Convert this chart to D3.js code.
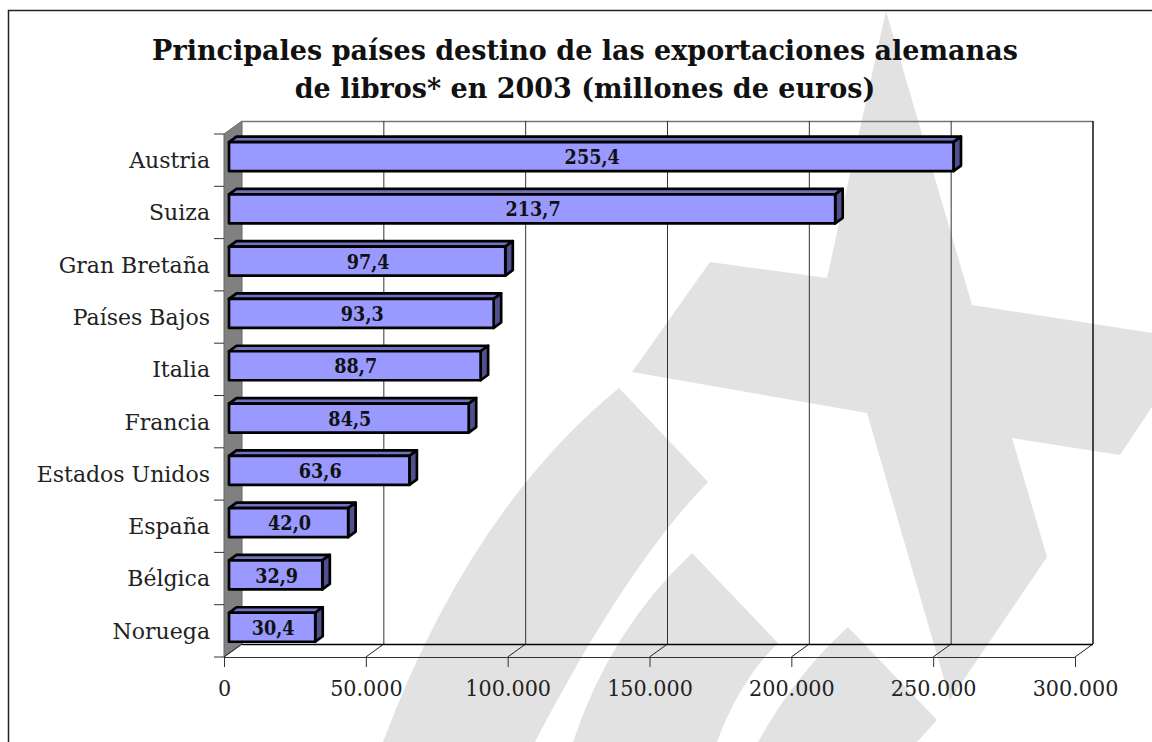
<!DOCTYPE html>
<html>
<head>
<meta charset="utf-8">
<script src="https://cdn.jsdelivr.net/npm/d3@7"></script>
<style>
    html, body { margin: 0; padding: 0; background: #fff; }
    svg { display: block; font-family: "DejaVu Serif", serif; }
</style>
</head>
<body>
<main></main>
<script>
const titleLines = [
    "Principales países destino de las exportaciones alemanas",
    "de libros* en 2003 (millones de euros)"
];
const countries = ["Austria", "Suiza", "Gran Bretaña", "Países Bajos", "Italia", "Francia", "Estados Unidos", "España", "Bélgica", "Noruega"];
const values = [255.4, 213.7, 97.4, 93.3, 88.7, 84.5, 63.6, 42.0, 32.9, 30.4];
const xTicks = [0, 50, 100, 150, 200, 250, 300];
const xTickLabels = ["0", "50.000", "100.000", "150.000", "200.000", "250.000", "300.000"];

// grey logo behind the chart
const watermark = [
    "M886,11 L972,305 L1152,333 L1152,407 L1120,455 L1012,438 L1047,557 L950,700 L867,413 L632,372 L710,262 L827,278 Z",
    "M619,388 L708,482 Q627,565 535,742 L383,742 Q470,510 619,388 Z",
    "M692,553 L778,643 Q740,680 717,742 L573,742 Q610,630 692,553 Z",
    "M848,627 L937,720 L917,742 L758,742 Q795,675 848,627 Z"
];

const WIDTH = 1152;
const HEIGHT = 742;
const DEPTH_X = 18, DEPTH_Y = 13;

// DejaVu digits run wide compared with the original typeface, so narrow them a little
const squeeze = (selection, factor) => {
    selection.each(function () {
        d3.select(this)
            .attr("textLength", this.getComputedTextLength() * factor)
            .attr("lengthAdjust", "spacingAndGlyphs");
    });
};

const svg = d3.select("main").append("svg")
    .attr("width", WIDTH)
    .attr("height", HEIGHT);

svg.append("g").selectAll("path")
    .data(watermark)
    .join("path")
    .attr("d", d => d)
    .attr("fill", "#e2e2e2");

// outer frame, open at right and bottom
svg.append("path")
    .attr("d", `M8.5,${HEIGHT} V10.5 H${WIDTH}`)
    .attr("fill", "none")
    .attr("stroke", "#222")
    .attr("stroke-width", 1.5);

svg.append("g").selectAll("text")
    .data(titleLines)
    .join("text")
    .attr("x", 585)
    .attr("y", (d, i) => 60 + i * 38)
    .attr("text-anchor", "middle")
    .attr("font-weight", "bold")
    .attr("font-size", 27)
    .attr("fill", "#111")
    .text(d => d);

// scales sit on the front edge of the floor
let xScale = d3.scaleLinear()
    .domain([0, 300])
    .range([224, 1075]);

let yScale = d3.scaleBand()
    .domain(countries)
    .range([134, 657])
    .paddingInner(0.445)
    .paddingOuter(0.2225);

let yEdge = d3.scaleLinear()
    .domain([0, countries.length])
    .range([134, 657]);

const x0 = xScale(0), x1 = xScale(300);
const yTop = yEdge(0), yBottom = yEdge(countries.length);

// left wall
svg.append("path")
    .attr("d", `M${x0},${yTop} L${x0 + DEPTH_X},${yTop - DEPTH_Y} V${yBottom - DEPTH_Y} L${x0},${yBottom} Z`)
    .attr("fill", "#808080")
    .attr("stroke", "#666");

// back wall top and right edge
svg.append("path")
    .attr("d", `M${x0 + DEPTH_X},${yTop - DEPTH_Y + 0.5} H${x1 + DEPTH_X}`)
    .attr("stroke", "#777")
    .attr("stroke-width", 1.5);
svg.append("path")
    .attr("d", `M${x1 + DEPTH_X},${yTop - DEPTH_Y} V${yBottom - DEPTH_Y}`)
    .attr("stroke", "#111")
    .attr("stroke-width", 1.5);

// gridlines and floor
svg.append("g").selectAll("path")
    .data(xTicks.slice(1, -1))
    .join("path")
    .attr("d", d => `M${xScale(d) + DEPTH_X},${yTop - DEPTH_Y} V${yBottom - DEPTH_Y}`)
    .attr("stroke", "#333")
    .attr("stroke-width", 1);
svg.append("g").selectAll("path")
    .data(xTicks)
    .join("path")
    .attr("d", d => `M${xScale(d)},${yBottom} L${xScale(d) + DEPTH_X},${yBottom - DEPTH_Y}`)
    .attr("stroke", "#222")
    .attr("stroke-width", 1);
svg.append("path")
    .attr("d", `M${x0 + DEPTH_X},${yBottom - DEPTH_Y + 0.5} H${x1 + DEPTH_X}`)
    .attr("stroke", "#000")
    .attr("stroke-width", 1.5);
svg.append("path")
    .attr("d", `M${x0},${yBottom + 0.5} H${x1}`)
    .attr("stroke", "#333")
    .attr("stroke-width", 1);

// axes
let xAxis = d3.axisBottom(xScale)
    .tickValues(xTicks)
    .tickFormat((d, i) => xTickLabels[i])
    .tickSize(10)
    .tickPadding(13);
let xAxisG = svg.append("g")
    .attr("transform", `translate(0, ${yBottom})`)
    .call(xAxis);
xAxisG.select(".domain").remove();

let yAxis = d3.axisLeft(yScale)
    .tickSize(0)
    .tickPadding(14);
let yAxisG = svg.append("g")
    .attr("transform", `translate(${x0}, 0)`)
    .call(yAxis);
yAxisG.select(".domain").remove();

for (const g of [xAxisG, yAxisG]) {
    g.attr("font-family", null).attr("font-size", null);
    g.selectAll("text")
        .attr("font-size", 22)
        .attr("fill", "#222");
    g.selectAll("line").attr("stroke", "#333");
}
xAxisG.selectAll("text").attr("font-size", 23).call(squeeze, 0.9);
yAxisG.selectAll("text").attr("dy", "0.36em");

svg.append("g").selectAll("path")
    .data(d3.range(countries.length + 1))
    .join("path")
    .attr("d", d => `M${x0 - 10},${yEdge(d)} H${x0}`)
    .attr("stroke", "#333");

// bars, front face set a bit into the depth of the chart
const barNudgeX = 5, barNudgeY = -3.6;
const barDepthX = 7.5, barDepthY = 5.5;

const bars = svg.append("g").selectAll("g")
    .data(countries)
    .join("g")
    .attr("transform", `translate(${barNudgeX}, ${barNudgeY})`)
    .attr("stroke", "#000")
    .attr("stroke-width", 2.7)
    .attr("stroke-linejoin", "round");

bars.append("path")
    .attr("fill", "#7272c0")
    .attr("d", d => {
        const y = yScale(d), r = xScale(values[countries.indexOf(d)]);
        return `M${x0},${y} L${x0 + barDepthX},${y - barDepthY} H${r + barDepthX} L${r},${y} Z`;
    });

bars.append("path")
    .attr("fill", "#50508f")
    .attr("d", d => {
        const y = yScale(d), r = xScale(values[countries.indexOf(d)]), h = yScale.bandwidth();
        return `M${r},${y} L${r + barDepthX},${y - barDepthY} V${y + h - barDepthY} L${r},${y + h} Z`;
    });

bars.append("rect")
    .attr("fill", "#9999ff")
    .attr("x", x0)
    .attr("y", d => yScale(d))
    .attr("width", d => xScale(values[countries.indexOf(d)]) - x0)
    .attr("height", yScale.bandwidth());

bars.append("text")
    .attr("x", d => (x0 + xScale(values[countries.indexOf(d)])) / 2 + 1)
    .attr("y", d => yScale(d) + yScale.bandwidth() / 2)
    .attr("dy", "0.36em")
    .attr("text-anchor", "middle")
    .attr("font-weight", "bold")
    .attr("font-size", 21)
    .attr("stroke", "none")
    .attr("fill", "#111")
    .text(d => values[countries.indexOf(d)].toFixed(1).replace(".", ","))
    .call(squeeze, 0.84);
</script>
</body>
</html>
